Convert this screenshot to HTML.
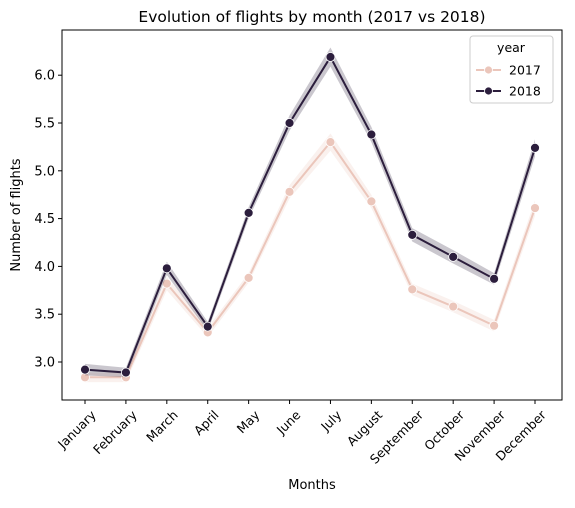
<!DOCTYPE html>
<html><head><meta charset="utf-8"><style>
body{margin:0;background:#fff;}
svg text{font-family:"DejaVu Sans","Liberation Sans",sans-serif;fill:#000;}
</style></head><body>
<svg id="chart" width="575" height="503"></svg>
<script>
const months=["January","February","March","April","May","June","July","August","September","October","November","December"];
const v2017=[2.84,2.84,3.82,3.31,3.88,4.78,5.30,4.68,3.76,3.58,3.38,4.61];
const v2018=[2.92,2.89,3.98,3.37,4.56,5.50,6.19,5.38,4.33,4.10,3.87,5.24];
const ci2017=[0.05,0.05,0.07,0.05,0.05,0.07,0.09,0.07,0.06,0.06,0.06,0.08];
const ci2018=[0.06,0.05,0.07,0.05,0.06,0.08,0.10,0.08,0.07,0.07,0.06,0.09];
const yTicks=[3.0,3.5,4.0,4.5,5.0,5.5,6.0];
const NS="http://www.w3.org/2000/svg";
const svg=document.getElementById('chart');
const L=62,R=562,T=30,B=400;
const x=i=>85+i*(535-85)/11;
const y=v=>362-(v-3.0)*95.6;
function mk(t,a,txt){const e=document.createElementNS(NS,t);for(const k in a)e.setAttribute(k,a[k]);if(txt!==undefined)e.textContent=txt;svg.appendChild(e);return e;}
let t=mk('text',{x:312,y:22,'text-anchor':'middle','font-size':15.5},'Evolution of flights by month (2017 vs 2018)');


yTicks.forEach(v=>{
 let l=mk('line',{x1:L-4,x2:L,y1:y(v),y2:y(v),stroke:'#000'});
 
 
 let tx=mk('text',{x:L-7,y:y(v)+4.5,'text-anchor':'end','font-size':13},v.toFixed(1));
 
 
});
months.forEach((m,i)=>{
 let l=mk('line',{x1:x(i),x2:x(i),y1:B,y2:B+4,stroke:'#000'});
 
 
 let tx=mk('text',{x:x(i)+5,y:B+9,'text-anchor':'end','font-size':12.5,transform:`rotate(-45 ${x(i)+5} ${B+9})`,'dominant-baseline':'hanging'},m);
 
 
});
t=mk('text',{x:312,y:489,'text-anchor':'middle','font-size':13},'Months');


t=mk('text',{x:20,y:215,'text-anchor':'middle','font-size':13,transform:'rotate(-90 20 215)'},'Number of flights');


function series(vals,ci,color,name){
 let up=vals.map((v,i)=>`${x(i)},${y(v+ci[i])}`),dn=vals.map((v,i)=>`${x(i)},${y(v-ci[i])}`).reverse();
 let b=mk('polygon',{points:up.concat(dn).join(' '),fill:color,'fill-opacity':0.25,stroke:'none'});
 
 
 let p=mk('polyline',{points:vals.map((v,i)=>`${x(i)},${y(v)}`).join(' '),fill:'none',stroke:color,'stroke-width':2});
 
 
 vals.forEach((v,i)=>{
  let c=mk('circle',{cx:x(i),cy:y(v),r:4.5,fill:color,stroke:'#fff','stroke-width':0.8});
  
  
 });
}
series(v2017,ci2017,'#ebc6bb','series-2017');
series(v2018,ci2018,'#2c1e3d','series-2018');
let f=mk('rect',{x:L,y:T,width:R-L,height:B-T,fill:'none',stroke:'#000','stroke-width':1});


let lg=mk('rect',{x:470,y:36,width:83,height:67,fill:'#fff','fill-opacity':0.8,stroke:'#ccc',rx:3});


t=mk('text',{x:511,y:52,'text-anchor':'middle','font-size':12.5},'year');


[['2017','#ebc6bb',70],['2018','#2c1e3d',91]].forEach(([lab,c,yy])=>{
 let l=mk('line',{x1:476,x2:501,y1:yy,y2:yy,stroke:c,'stroke-width':2});
 
 
 let ci=mk('circle',{cx:488.5,cy:yy,r:4,fill:c,stroke:'#fff','stroke-width':0.8});
 
 
 let tx=mk('text',{x:509,y:yy+4.5,'font-size':12.5},lab);
 
 
});
</script>
</body></html>
